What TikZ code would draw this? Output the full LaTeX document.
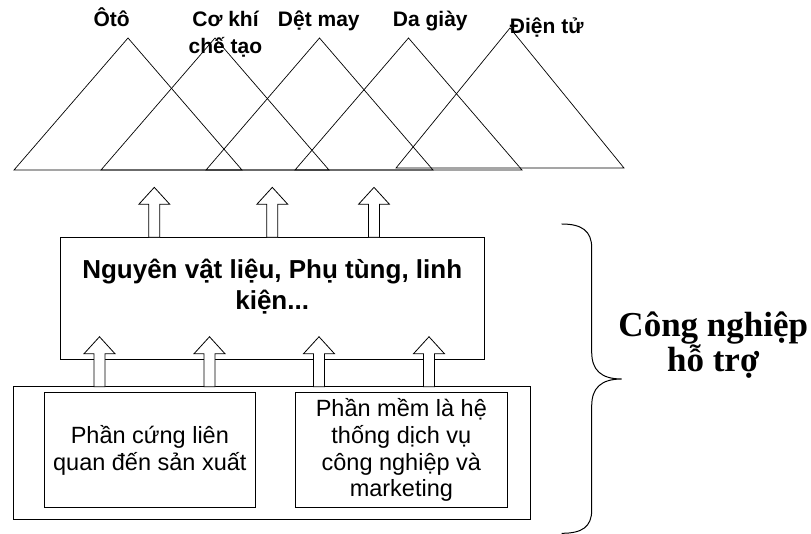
\documentclass[tikz,border=0pt]{standalone}
\usepackage{fontspec}
\setmainfont{Liberation Sans}
\newfontfamily\timesfont{Liberation Serif}
\tikzset{
  frame/.style={draw, rectangle, inner sep=0pt, outer sep=0pt},
  peak/.style={draw, line width=0.7pt, line join=miter},
  blockarrow/.style={draw, fill=white, line width=0.8pt, line join=miter},
  brace/.style={draw, line width=1pt},
  % multi-line nodes: the base anchor sits on the last line
  sector/.style={anchor=base, align=center, inner sep=0pt,
    font=\bfseries\fontsize{21}{26.7}\selectfont},
  maintext/.style={anchor=base, align=center, inner sep=0pt,
    font=\bfseries\fontsize{26}{31.7}\selectfont},
  subtext/.style={anchor=base, align=center, inner sep=0pt,
    font=\fontsize{23.5}{26.7}\selectfont},
  sidetext/.style={anchor=base, align=center, inner sep=0pt,
    font=\timesfont\bfseries\fontsize{35}{26.5}\selectfont}
}
% upward block arrow starting at the given point
\newcommand\liftarrow[1]{%
  \draw[blockarrow] #1 ++(-5.5,0) -- ++(0,-33) -- ++(-10,0) -- ++(15.5,-17)
    -- ++(15.5,17) -- ++(-10,0) -- ++(0,33) -- cycle;}
\begin{document}
\begin{tikzpicture}[x=1pt,y=-1pt,line width=0.9pt]
\useasboundingbox (0,0) rectangle (811,534);

% industries as overlapping triangles
\draw[peak] (14,170) -- (128,38) -- (242,170) -- cycle;
\draw[peak] (101,170) -- (215,38) -- (329,170) -- cycle;
\draw[peak] (206,170) -- (319.5,38) -- (433,170) -- cycle;
\draw[peak] (295,170) -- (408.5,38) -- (522,170) -- cycle;
\draw[peak] (396,168) -- (510,28) -- (624,168) -- cycle;

\node[sector] (oto)   at (111.7,26.7) {Ôtô};
\node[sector] (cokhi) at (225.5,53.3) {Cơ khí\\chế tạo};
\node[sector] (detmay) at (318.8,26.7) {Dệt may};
\node[sector] (dagiay) at (430.3,26.7) {Da giày};
\node[sector] (dientu) at (546.7,33.3) {Điện tử};

% supporting industry blocks
\node[frame, minimum width=423.7, minimum height=121.7] (mat) at (272.2,298.2) {};
\node[maintext] (mattxt) at (272.2,310) {Nguyên vật liệu, Phụ tùng, linh\\kiện...};

\node[frame, minimum width=517.4, minimum height=132.3] (base) at (272,452.9) {};
\node[frame, minimum width=211.7, minimum height=115.4] (hw) at (149.85,450) {};
\node[frame, minimum width=212.7, minimum height=115.4] (sw) at (401.35,450) {};
\node[subtext] (hwtxt) at (149.85,470) {Phần cứng liên\\quan đến sản xuất};
\node[subtext] (swtxt) at (401.35,496.7) {Phần mềm là hệ\\thống dịch vụ\\công nghiệp và\\marketing};

% block arrows
\liftarrow{(154.3,0 |- mat.north)}
\liftarrow{(272.3,0 |- mat.north)}
\liftarrow{(374,0 |- mat.north)}
\liftarrow{(99.5,0 |- base.north)}
\liftarrow{(209.5,0 |- base.north)}
\liftarrow{(319,0 |- base.north)}
\liftarrow{(429,0 |- base.north)}

% brace and caption
\draw[brace] (561.7,224) .. controls (582,224) and (591.7,231) .. (591.7,248)
  -- (591.7,352) .. controls (591.7,370) and (601,379) .. (621.7,379)
  .. controls (601,379) and (591.7,388) .. (591.7,406)
  -- (591.7,510) .. controls (591.7,527) and (582,533.3) .. (561.7,533.3);
\node[sidetext] (ciht) at (713.3,372) {Công nghiệp\\hỗ trợ};
\end{tikzpicture}
\end{document}
